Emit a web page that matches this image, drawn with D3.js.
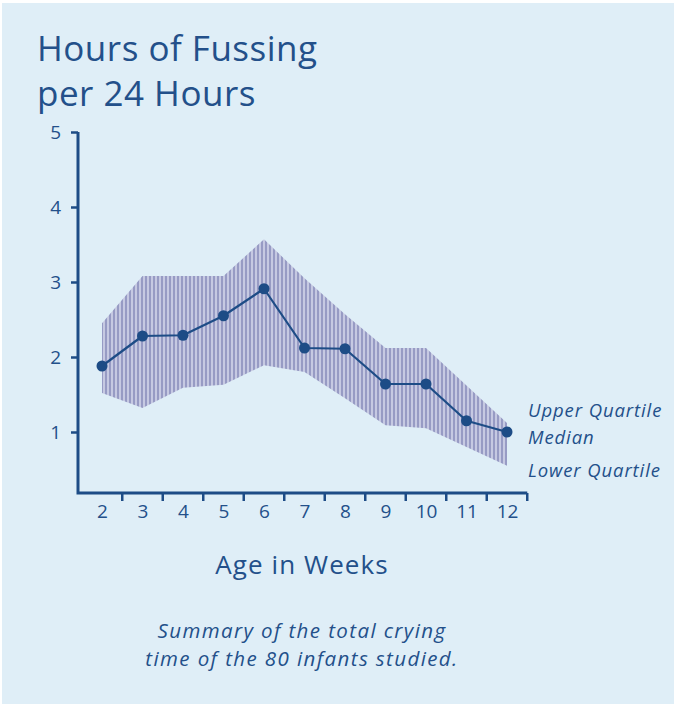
<!DOCTYPE html>
<html>
<head>
<meta charset="utf-8">
<script src="https://cdn.jsdelivr.net/npm/d3@7"></script>
<style>
  html, body { margin: 0; padding: 0; background: #ffffff; }
  svg { display: block; }
</style>
</head>
<body>
<div id="chart"></div>
<script>
// weeks of age and the three curves (hours of fussing per 24 h)
var weeks = [2, 3, 4, 5, 6, 7, 8, 9, 10, 11, 12];
var median = [1.88, 2.28, 2.29, 2.55, 2.91, 2.12, 2.11, 1.64, 1.64, 1.15, 1.0];
var upperQ = [2.45, 3.08, 3.08, 3.08, 3.57, 3.05, 2.57, 2.12, 2.12, 1.62, 1.12];
var lowerQ = [1.52, 1.32, 1.59, 1.63, 1.89, 1.80, 1.45, 1.09, 1.05, 0.80, 0.55];
var yTicks = [1, 2, 3, 4, 5];
var legendLabels = ["Upper Quartile", "Median", "Lower Quartile"];

var W = 674, H = 704;
var navy = "#1d4c86";
var textBlue = "#23508a";
var font = "'Open Sans', sans-serif";

var svg = d3.select("#chart").append("svg")
    .attr("width", W)
    .attr("height", H);

// light blue panel
svg.append("rect")
    .attr("x", 2).attr("y", 3)
    .attr("width", W - 2).attr("height", H - 3)
    .attr("fill", "#dfeef7");

// scales
var x = d3.scaleLinear().domain([2, 12]).range([102, 507]);
var y = d3.scaleLinear().domain([0, 5]).range([507, 132]);

// hatch pattern for the quartile band
var defs = svg.append("defs");
var pat = defs.append("pattern")
    .attr("id", "hatch")
    .attr("patternUnits", "userSpaceOnUse")
    .attr("width", 4).attr("height", 10);
pat.append("rect").attr("width", 4).attr("height", 10).attr("fill", "#c6c9e2");
pat.append("rect").attr("x", 1).attr("width", 2).attr("height", 10).attr("fill", "#979bc4");

var band = weeks.map(function(w, i) { return {w: w, lo: lowerQ[i], hi: upperQ[i]}; });
var area = d3.area()
    .x(function(d) { return x(d.w); })
    .y0(function(d) { return y(d.lo); })
    .y1(function(d) { return y(d.hi); });

svg.append("path")
    .attr("d", area(band))
    .attr("fill", "url(#hatch)");

// median line + dots
var pts = weeks.map(function(w, i) { return {w: w, v: median[i]}; });
var line = d3.line()
    .x(function(d) { return x(d.w); })
    .y(function(d) { return y(d.v); });

svg.append("path")
    .attr("d", line(pts))
    .attr("fill", "none")
    .attr("stroke", navy)
    .attr("stroke-width", 2.2)
    .attr("stroke-linejoin", "round");

svg.selectAll("circle.pt")
    .data(pts)
    .enter()
    .append("circle")
    .attr("class", "pt")
    .attr("cx", function(d) { return x(d.w); })
    .attr("cy", function(d) { return y(d.v); })
    .attr("r", 5.5)
    .attr("fill", navy);

// y axis
var axisX = 78, axisY = 493;
var yAxis = svg.append("g")
    .attr("transform", "translate(" + axisX + ",0)")
    .call(d3.axisLeft(y).tickValues(yTicks).tickSize(7).tickPadding(10).tickFormat(d3.format("d")));
yAxis.select(".domain").remove();
yAxis.selectAll(".tick line").attr("stroke", navy).attr("stroke-width", 2.5);
yAxis.selectAll(".tick text")
    .attr("fill", textBlue)
    .attr("font-family", font)
    .attr("font-size", 19);

// x axis: labels at each week, ticks between them
var xAxis = svg.append("g")
    .attr("transform", "translate(0," + axisY + ")")
    .call(d3.axisBottom(x).tickValues(weeks).tickSize(0).tickPadding(12).tickFormat(d3.format("d")));
xAxis.select(".domain").remove();
xAxis.selectAll(".tick text")
    .attr("fill", textBlue)
    .attr("font-family", font)
    .attr("font-size", 19);

var between = weeks.map(function(w) { return w + 0.5; });
svg.selectAll("line.xt")
    .data(between)
    .enter()
    .append("line")
    .attr("class", "xt")
    .attr("x1", function(d) { return x(d); })
    .attr("x2", function(d) { return x(d); })
    .attr("y1", axisY)
    .attr("y2", axisY + 8)
    .attr("stroke", navy)
    .attr("stroke-width", 2.5);

// axis lines (L shape)
svg.append("path")
    .attr("d", "M" + axisX + "," + y(5) + "V" + axisY + "H" + x(12.5))
    .attr("fill", "none")
    .attr("stroke", navy)
    .attr("stroke-width", 3);

// title
svg.append("text")
    .attr("x", 37).attr("y", 61)
    .attr("fill", textBlue)
    .attr("font-family", font)
    .attr("font-size", 35)
    .attr("letter-spacing", 0.5)
    .text("Hours of Fussing");
svg.append("text")
    .attr("x", 37).attr("y", 106)
    .attr("fill", textBlue)
    .attr("font-family", font)
    .attr("font-size", 35)
    .attr("letter-spacing", 0.5)
    .text("per 24 Hours");

// legend labels at right
var legY = [411, 438, 471];
svg.selectAll("text.leg")
    .data(legendLabels)
    .enter()
    .append("text")
    .attr("class", "leg")
    .attr("x", 528)
    .attr("y", function(d, i) { return legY[i]; })
    .attr("dy", "0.35em")
    .attr("fill", textBlue)
    .attr("font-family", font)
    .attr("font-style", "italic")
    .attr("font-size", 18.5)
    .attr("letter-spacing", 0.9)
    .text(function(d) { return d; });

// x axis label
svg.append("text")
    .attr("x", 302).attr("y", 574)
    .attr("text-anchor", "middle")
    .attr("fill", textBlue)
    .attr("font-family", font)
    .attr("font-size", 26)
    .attr("letter-spacing", 1.1)
    .text("Age in Weeks");

// caption
var caption = ["Summary of the total crying", "time of the 80 infants studied."];
svg.selectAll("text.cap")
    .data(caption)
    .enter()
    .append("text")
    .attr("class", "cap")
    .attr("x", 302)
    .attr("y", function(d, i) { return 638 + i * 28; })
    .attr("text-anchor", "middle")
    .attr("fill", textBlue)
    .attr("font-family", font)
    .attr("font-style", "italic")
    .attr("font-size", 20.5)
    .attr("letter-spacing", 1.4)
    .text(function(d) { return d; });
</script>
</body>
</html>
